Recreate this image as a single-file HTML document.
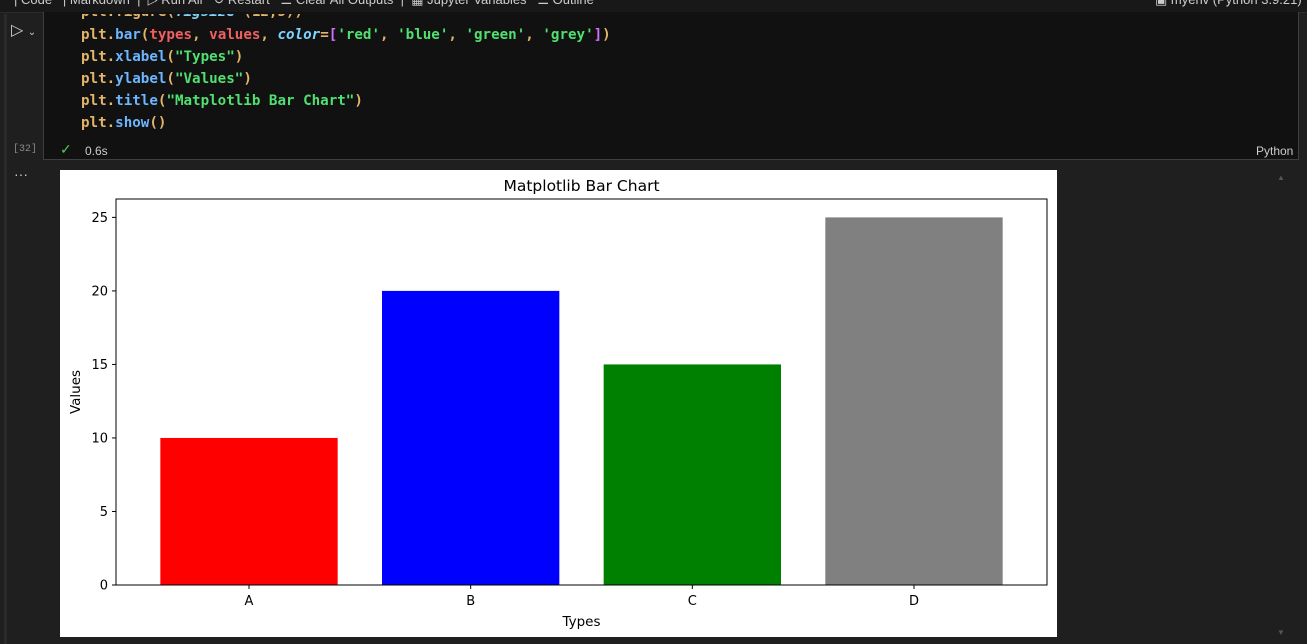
<!DOCTYPE html>
<html><head><meta charset="utf-8"><style>
body{margin:0;width:1307px;height:644px;background:#1f1f1f;overflow:hidden;font-family:"Liberation Sans",sans-serif;position:relative}
.abs{position:absolute}
.code{font-family:"DejaVu Sans Mono","Liberation Mono",monospace;font-size:14.2px;font-weight:bold;line-height:22px;color:#e3b56a;white-space:pre}
</style></head><body>
<div class="abs" style="left:0;top:0;width:1307px;height:12px;background:#181818;border-bottom:1px solid #2b2b2b;color:#ccc;font-size:13px;overflow:hidden">
<span class="abs" style="left:14px;top:-8px;white-space:pre">| Code   | Markdown  |  ▷ Run All   ↻ Restart   ☰ Clear All Outputs  |  ▦ Jupyter Variables   ☰ Outline</span>
<span class="abs" style="left:1155px;top:-8px;white-space:pre">▣ myenv (Python 3.9.21)</span>
</div>
<div class="abs" style="left:4px;top:14px;width:3px;height:630px;background:#2a2a2a"></div>
<div class="abs" style="left:43px;top:12px;width:1254px;height:147px;background:#111;border:1px solid #3c3f44;border-top:none"></div>
<div class="abs" style="left:11px;top:20px;color:#ccc;font-size:16px">▷ <span style="font-size:10px">⌄</span></div>
<div class="abs code" style="left:81px;top:14px;height:22px;overflow:hidden"><div style="margin-top:-13px">plt.figure(<i style="color:#7fd4ff">figsize</i>=(12,5))</div></div>
<div class="abs code" style="left:81px;top:24px">plt.<span style="color:#6cb6ff">bar</span>(<span style="color:#f06060">types</span>, <span style="color:#f06060">values</span>, <i style="color:#7fd4ff">color</i>=<span style="color:#d070ff">[</span><span style="color:#50e070">'red'</span>, <span style="color:#50e070">'blue'</span>, <span style="color:#50e070">'green'</span>, <span style="color:#50e070">'grey'</span><span style="color:#d070ff">]</span>)
plt.<span style="color:#6cb6ff">xlabel</span>(<span style="color:#50e070">"Types"</span>)
plt.<span style="color:#6cb6ff">ylabel</span>(<span style="color:#50e070">"Values"</span>)
plt.<span style="color:#6cb6ff">title</span>(<span style="color:#50e070">"Matplotlib Bar Chart"</span>)
plt.<span style="color:#6cb6ff">show</span>()</div>
<div class="abs" style="left:13px;top:144px;color:#888;font-size:10px;font-family:'Liberation Mono',monospace">[32]</div>
<div class="abs" style="left:60px;top:141px;color:#4ec94e;font-size:14px">✓</div>
<div class="abs" style="left:85px;top:144px;color:#ccc;font-size:12px">0.6s</div>
<div class="abs" style="left:1256px;top:144px;color:#ccc;font-size:12px">Python</div>
<div class="abs" style="left:14px;top:166px;color:#ccc;font-size:14px">···</div>
<div class="abs" style="left:1277px;top:173px;color:#555;font-size:8px">▲</div>
<div class="abs" style="left:1277px;top:628px;color:#555;font-size:8px">▼</div>
<svg class="abs" style="left:60px;top:170px;font-family:'DejaVu Sans',sans-serif" width="997" height="467" id="chart"></svg>
<script>
const categories=['A','B','C','D'];
const values=[10,20,15,25];
const colors=['#ff0000','#0000ff','#008000','#808080'];
const yTicks=[0,5,10,15,20,25];
const NS='http://www.w3.org/2000/svg';
const svg=document.getElementById('chart');
const L=56,R=987,T=29,B=415;
const x=v=>L+(v+0.6)/4.2*(R-L);
const y=v=>B-v/26.25*(B-T);
function mk(t,a,txt){const e=document.createElementNS(NS,t);for(const k in a)e.setAttribute(k,a[k]);if(txt!==undefined)e.textContent=txt;svg.appendChild(e);return e;}
mk('rect',{x:0,y:0,width:997,height:467,fill:'#fff'});
categories.forEach((c,i)=>{
 const r=mk('rect',{x:x(i-0.4),y:y(values[i]),width:x(i+0.4)-x(i-0.4),height:B-y(values[i]),fill:colors[i]});
 
 
 mk('line',{x1:x(i),x2:x(i),y1:B,y2:B+4,stroke:'#000'});
 const t=mk('text',{x:x(i),y:B+20,'text-anchor':'middle','font-size':13,fill:'#000'},c);
 
 
});
yTicks.forEach(v=>{
 mk('line',{x1:L-4,x2:L,y1:y(v),y2:y(v),stroke:'#000'});
 const t=mk('text',{x:L-8,y:y(v)+4.5,'text-anchor':'end','font-size':13,fill:'#000'},v);
 
 
});
const f=mk('rect',{x:L,y:T,width:R-L,height:B-T,fill:'none',stroke:'#000','stroke-width':1});


const ti=mk('text',{x:(L+R)/2,y:T-8,'text-anchor':'middle','font-size':15.5,fill:'#000'},'Matplotlib Bar Chart');


const xl=mk('text',{x:(L+R)/2,y:B+41,'text-anchor':'middle','font-size':13.5,fill:'#000'},'Types');


const yl=mk('text',{x:0,y:0,'text-anchor':'middle','font-size':13.5,fill:'#000',transform:`translate(20,${(T+B)/2}) rotate(-90)`},'Values');


</script>
</body></html>
